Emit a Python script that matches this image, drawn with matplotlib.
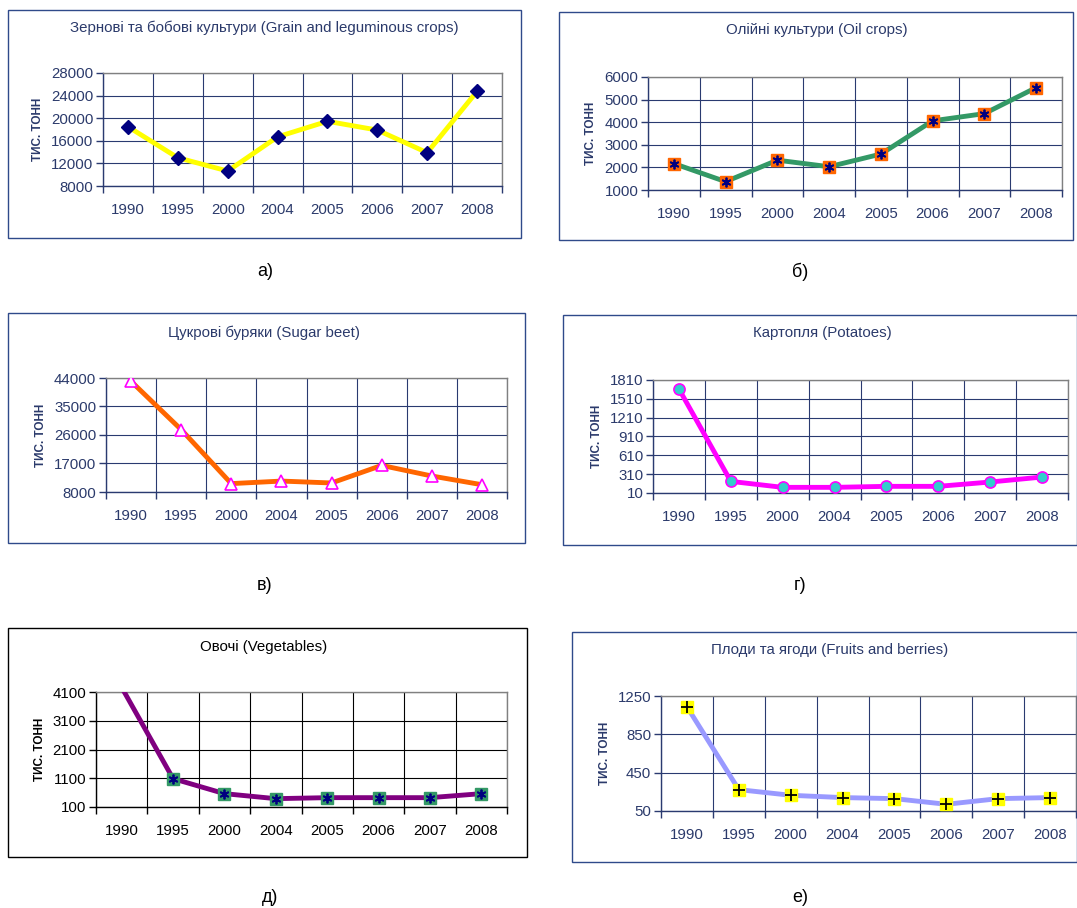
import matplotlib
matplotlib.use("Agg")
import matplotlib.pyplot as plt
from matplotlib.patches import Rectangle
import numpy as np

plt.rcParams['font.family'] = ['Liberation Sans', 'DejaVu Sans']

years = ['1990', '1995', '2000', '2004', '2005', '2006', '2007', '2008']

grain = [18500, 13000, 10650, 16700, 19450, 17900, 13900, 24750]
oil = [2170, 1370, 2320, 2030, 2590, 4060, 4380, 5530]
sugar = [42950, 27700, 10650, 11450, 10850, 16400, 13050, 10300]
potato = [1667, 195, 100, 100, 116, 116, 185, 264]
veget = [4260, 1086, 564, 390, 425, 425, 425, 564]
fruit = [1138, 273, 214, 190, 179, 120, 179, 190]

grain_ticks = [8000, 12000, 16000, 20000, 24000, 28000]
oil_ticks = [1000, 2000, 3000, 4000, 5000, 6000]
sugar_ticks = [8000, 17000, 26000, 35000, 44000]
potato_ticks = [10, 310, 610, 910, 1210, 1510, 1810]
veget_ticks = [100, 1100, 2100, 3100, 4100]
fruit_ticks = [50, 450, 850, 1250]

titles = ['Зернові та бобові культури (Grain and leguminous crops)',
          'Олійні культури (Oil crops)',
          'Цукрові буряки (Sugar beet)',
          'Картопля (Potatoes)',
          'Овочі (Vegetables)',
          'Плоди та ягоди (Fruits and berries)']
letters = ['а)', 'б)', 'в)', 'г)', 'д)', 'е)']
ylabel = 'ТИС. ТОНН'

W, H = 1077, 908
fig = plt.figure(figsize=(W / 100, H / 100), dpi=100)

NAVY = '#2B3A6B'
GRID = '#2A3A70'

panels = [
    dict(data=grain, ticks=grain_ticks, box=(8, 10, 521, 238), plot=(103, 73, 502, 186),
         tc=(264, 28), lc=(265, 272), fg=NAVY, grid=GRID,
         line='#FFFF00', mk=dict(marker='D', ms=7, mfc='#000080', mec='#000080'), over=None),
    dict(data=oil, ticks=oil_ticks, box=(559, 12, 1073, 240), plot=(648, 77, 1062, 190),
         tc=(817, 30), lc=(800, 272), fg=NAVY, grid=GRID,
         line='#339966', mk=dict(marker='s', ms=8, mfc='#FF6600', mec='#FF6600'),
         over=dict(marker=(6, 2, 0), ms=7, color='#000080', mew=1.3)),
    dict(data=sugar, ticks=sugar_ticks, box=(8, 313, 525, 543), plot=(106, 378, 507, 492),
         tc=(264, 333), lc=(265, 585), fg=NAVY, grid=GRID,
         line='#FF6600', mk=dict(marker='^', ms=9, mfc='white', mec='#FF00FF', mew=1.2), over=None),
    dict(data=potato, ticks=potato_ticks, box=(563, 315, 1077, 545), plot=(653, 380, 1068, 493),
         tc=(822, 333), lc=(800, 585), fg=NAVY, grid=GRID,
         line='#FF00FF', mk=dict(marker='o', ms=8, mfc='#33CCCC', mec='#FF00FF', mew=1.2), over=None),
    dict(data=veget, ticks=veget_ticks, box=(8, 628, 527, 857), plot=(96, 692, 507, 807),
         tc=(264, 647), lc=(270, 898), fg='black', grid='black',
         line='#800080', mk=dict(marker='s', ms=8, mfc='#339966', mec='#339966'),
         over=dict(marker=(6, 2, 0), ms=7, color='#000080', mew=1.3), skip_first=True),
    dict(data=fruit, ticks=fruit_ticks, box=(572, 632, 1077, 862), plot=(661, 696, 1076, 811),
         tc=(830, 650), lc=(800, 898), fg=NAVY, grid=GRID,
         line='#9999FF', mk=dict(marker='s', ms=8, mfc='#FFFF00', mec='#FFFF00'),
         over=dict(marker='+', ms=8, color='black', mew=1.3)),
]

x = np.arange(len(years))

for i, p in enumerate(panels):
    bx0, by0, bx1, by1 = p['box']
    border = '#2F4A8A' if p['fg'] != 'black' else 'black'
    fig.patches.append(Rectangle((bx0 / W, 1 - by1 / H), (bx1 - bx0) / W, (by1 - by0) / H,
                                 transform=fig.transFigure, fill=False, ec=border, lw=1.0))
    px0, py0, px1, py1 = p['plot']
    ax = fig.add_axes([px0 / W, 1 - py1 / H, (px1 - px0) / W, (py1 - py0) / H])
    ax.set_xlim(-0.5, len(years) - 0.5)
    ax.set_ylim(p['ticks'][0], p['ticks'][-1])
    ax.set_yticks(p['ticks'])
    ax.set_yticklabels([str(t) for t in p['ticks']])
    ax.set_xticks(x)
    ax.set_xticklabels(years)
    ax.set_xticks(np.arange(-0.5, len(years)), minor=True)
    ax.tick_params(axis='x', which='major', length=0, pad=12, labelsize=10.8, colors=p['fg'])
    ax.tick_params(axis='x', which='minor', length=5, width=1, color=p['grid'], direction='out')
    ax.tick_params(axis='y', which='major', length=5, width=1, color=p['grid'], pad=2,
                   labelsize=10.8, labelcolor=p['fg'])
    ax.grid(True, axis='x', which='minor', color=p['grid'], lw=0.8)
    ax.grid(True, axis='y', which='major', color=p['grid'], lw=0.8)
    ax.set_axisbelow(True)
    for s in ['top', 'right']:
        ax.spines[s].set_color('#808080')
        ax.spines[s].set_linewidth(1)
    for s in ['left', 'bottom']:
        ax.spines[s].set_color(p['grid'])
        ax.spines[s].set_linewidth(1)
    ax.set_ylabel(ylabel, fontsize=8.5, fontweight='bold', color=p['fg'], labelpad=5)

    ax.plot(x, p['data'], color=p['line'], lw=3.5, zorder=3, solid_capstyle='round')
    me = list(range(1, len(years))) if p.get('skip_first') else None
    ax.plot(x, p['data'], ls='none', zorder=4, markevery=me, **p['mk'])
    if p['over']:
        ax.plot(x, p['data'], ls='none', zorder=5, markevery=me, **p['over'])

    fig.text(p['tc'][0] / W, 1 - p['tc'][1] / H, titles[i], ha='center', va='center',
             fontsize=10.8, color=p['fg'])
    fig.text(p['lc'][0] / W, 1 - p['lc'][1] / H, letters[i], ha='center', va='center',
             fontsize=13, color='black')

fig.savefig('out.png', dpi=100, facecolor='white')
